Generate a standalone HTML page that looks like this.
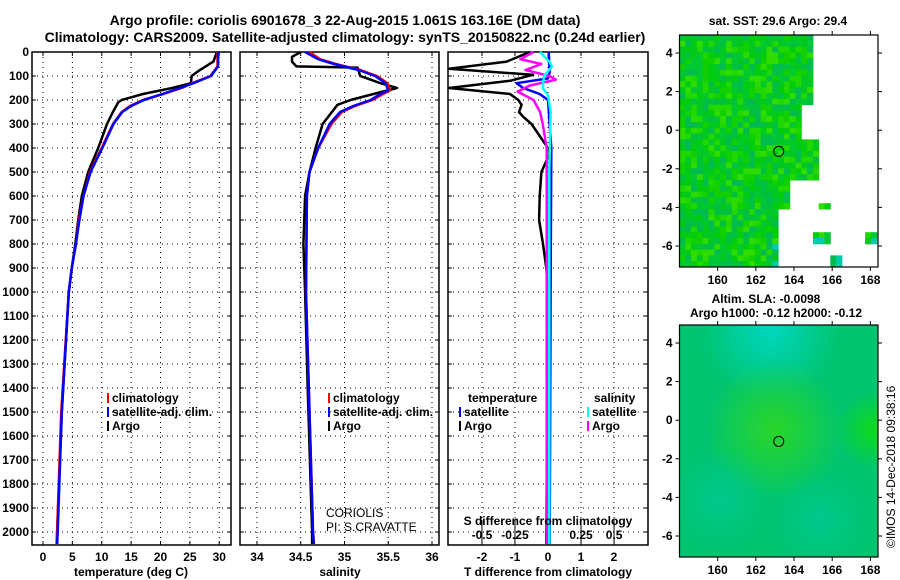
<!DOCTYPE html>
<html><head><meta charset="utf-8">
<style>
html,body{margin:0;padding:0;background:#fff;}
svg{display:block;font-family:"Liberation Sans",sans-serif;}
.b{font-weight:bold;font-size:12px;}
</style></head>
<body>
<svg id="fig" width="900" height="580" viewBox="0 0 900 580" xmlns="http://www.w3.org/2000/svg">
<text x="345" y="25" text-anchor="middle" font-weight="bold" font-size="14">Argo profile: coriolis 6901678_3 22-Aug-2015 1.061S 163.16E (DM data)</text>
<text x="345" y="42" text-anchor="middle" font-weight="bold" font-size="14">Climatology: CARS2009. Satellite-adjusted climatology: synTS_20150822.nc (0.24d earlier)</text>
<g id="g"></g>
</svg>
<script>
// ---- data (depth in dbar) ----
const tArgoDepth = [0,40,80,100,130,150,175,200,210,250,300,400,500,600,700,800,900,1000,1500,2000,2050];
const tArgo      = [29.6,29.0,26.4,25.3,25.2,22.0,17.0,13.4,12.8,11.9,10.9,9.4,7.7,6.6,6.0,5.5,4.9,4.4,3.2,2.4,2.4];
const tClimDepth = [0,60,100,130,150,175,200,225,250,300,400,500,600,700,800,900,1000,1500,2000,2050];
const tClim      = [29.7,29.7,28.5,25.4,23.6,20.5,17.0,14.8,13.4,11.9,10.0,8.0,6.9,6.1,5.6,4.9,4.4,3.1,2.4,2.3];
const tSat       = [29.8,29.8,28.6,25.6,23.4,20.3,17.2,15.0,13.5,12.0,10.1,8.1,6.9,6.2,5.6,4.9,4.4,3.2,2.5,2.4];
const sArgoDepth = [0,20,40,60,65,100,110,130,150,175,200,220,300,400,500,600,800,1000,1400,2000,2050];
const sArgo      = [34.50,34.40,34.40,34.45,35.15,35.18,35.26,35.41,35.60,35.33,35.07,34.92,34.75,34.67,34.60,34.55,34.53,34.55,34.58,34.63,34.63];
const sClimDepth = [0,30,50,75,100,130,160,175,200,225,250,300,400,500,600,1000,1500,2000,2050];
const sClim      = [34.60,34.72,34.90,35.18,35.37,35.49,35.52,35.44,35.32,35.12,34.97,34.85,34.70,34.60,34.57,34.56,34.60,34.64,34.65];
const sSat       = [34.55,34.70,34.88,35.16,35.35,35.47,35.50,35.41,35.30,35.10,34.95,34.83,34.70,34.60,34.57,34.56,34.60,34.64,34.65];
const dTDepth    = [0,40,70,95,120,150,175,200,220,250,270,300,350,390,420,500,600,700,800,900,1000,2050];
const dTArgo     = [-0.55,-1.25,-3.0,-0.45,-1.15,-3.0,-1.15,-0.9,-0.8,-0.88,-0.75,-0.5,-0.25,-0.05,0.06,-0.2,-0.25,-0.27,-0.15,-0.05,0,-0.05];
const dTSatDepth = [0,85,110,130,150,175,200,400,1000,2050];
const dTSat      = [0.02,0.05,0,-0.95,-0.75,-0.25,0,0.1,0.08,0.05];
const dSDepth    = [0,30,50,75,100,115,140,165,200,250,300,400,1000,2050];
const dSArgo     = [-0.11,-0.21,-0.05,-0.17,0.01,0.06,-0.14,-0.23,-0.11,-0.06,-0.04,-0.01,-0.01,-0.01];
const dSSatDepth = [0,40,60,100,150,180,250,500,2050];
const dSSat      = [-0.06,0.01,0.03,-0.03,-0.04,0,0.02,0.01,0.01];
const depthTicks = [0,100,200,300,400,500,600,700,800,900,1000,1100,1200,1300,1400,1500,1600,1700,1800,1900,2000];
const tTicks = [0,5,10,15,20,25,30];
const sTicks = [34,34.5,35,35.5,36];
const dTTicks = [-2,-1,0,1,2];
const dSTicks = [-0.5,-0.25,0,0.25,0.5];
const dSTickLabels = ["-0.5","-0.25","0","0.25","0.5"];
const lonTicks = [160,162,164,166,168];
const latTicks = [4,2,0,-2,-4,-6];
const argoLon = 163.2, argoLat = -1.1;

const NS="http://www.w3.org/2000/svg";
const G=document.getElementById('g');
function mk(tag,attrs,parent){const e=document.createElementNS(NS,tag);for(const k in attrs)e.setAttribute(k,attrs[k]);(parent||G).appendChild(e);return e;}
function txt(x,y,s,attrs,parent){const e=mk('text',Object.assign({x:x,y:y},attrs||{}),parent);e.textContent=s;return e;}

const Y0=52, Y1=545, DMAX=2054;
const yD=d=>Y0+d*(Y1-Y0)/DMAX;
function lin(d0,d1,r0,r1){return v=>r0+(v-d0)*(r1-r0)/(d1-d0);}
const panels=[
 {x0:32,x1:231,name:'temperature-panel',sx:lin(-1.87,32.0,32,231)},
 {x0:240,x1:439,name:'salinity-panel',sx:lin(33.806,36.08,240,439)},
 {x0:448,x1:648,name:'difference-panel',sx:lin(-3.03,3.03,448,648)}
];
const sxS = lin(-0.757,0.757,448,648);

panels.forEach((p,i)=>{
  const g=mk('g',{});
  
  
  depthTicks.forEach(d=>{
    const l=mk('line',{x1:p.x0,x2:p.x1,y1:yD(d),y2:yD(d),stroke:'#000','stroke-width':1,'stroke-dasharray':'1,4'},g);
    
    
    mk('line',{x1:p.x0,x2:p.x0+4,y1:yD(d),y2:yD(d),stroke:'#000'},g);
    mk('line',{x1:p.x1-4,x2:p.x1,y1:yD(d),y2:yD(d),stroke:'#000'},g);
  });
  const ticks = i==0?tTicks:(i==1?sTicks:dTTicks);
  ticks.forEach(t=>{
    const x=p.sx(t);
    mk('line',{x1:x,x2:x,y1:Y0,y2:Y1,stroke:'#000','stroke-dasharray':'1,4'},g);
    mk('line',{x1:x,x2:x,y1:Y1-4,y2:Y1,stroke:'#000'},g);
    mk('line',{x1:x,x2:x,y1:Y0,y2:Y0+4,stroke:'#000'},g);
    const tl=txt(x,561,String(t),{'text-anchor':'middle',class:'b'},g);
    
    
  });
  const fr=mk('rect',{x:p.x0,y:Y0,width:p.x1-p.x0,height:Y1-Y0,fill:'none',stroke:'#000','stroke-width':1.5},g);
  
  
});
dSTicks.forEach((t,k)=>{
  const x=sxS(t);
  mk('line',{x1:x,x2:x,y1:yD(1950),y2:Y1,stroke:'#000'});
  const e=txt(x,539,dSTickLabels[k],{'text-anchor':'middle',class:'b'});
  
  
});
depthTicks.forEach(d=>{
  const e=txt(29,yD(d)+4,String(d),{'text-anchor':'end',class:'b'});
  
  
});

function curve(depths,vals,sx,color,w,name){
  const pts=depths.map((d,i)=>sx(vals[i]).toFixed(1)+','+yD(d).toFixed(1)).join(' ');
  const e=mk('polyline',{points:pts,fill:'none',stroke:color,'stroke-width':w,'stroke-linejoin':'round'});
  
  
}
curve(tArgoDepth,tArgo,panels[0].sx,'#000',2.5,'temperature-argo-line');
curve(tClimDepth,tClim,panels[0].sx,'#f00',2.5,'temperature-climatology-line');
curve(tClimDepth,tSat,panels[0].sx,'#00f',2.5,'temperature-satellite-line');
curve(sArgoDepth,sArgo,panels[1].sx,'#000',2.5,'salinity-argo-line');
curve(sClimDepth,sClim,panels[1].sx,'#f00',2.5,'salinity-climatology-line');
curve(sClimDepth,sSat,panels[1].sx,'#00f',2.5,'salinity-satellite-line');
curve(dTDepth,dTArgo,panels[2].sx,'#000',2.5,'t-diff-argo-line');
curve(dTSatDepth,dTSat,panels[2].sx,'#00f',2.5,'t-diff-satellite-line');
curve(dSDepth,dSArgo,sxS,'#f0f',2.5,'s-diff-argo-line');
curve(dSSatDepth,dSSat,sxS,'#0ff',2.5,'s-diff-satellite-line');

[[131,576,'temperature (deg C)','temperature-axis-title'],[340,576,'salinity','salinity-axis-title'],[548,576,'T difference from climatology','t-diff-axis-title'],[548,525,'S difference from climatology','s-diff-axis-title']].forEach(a=>{
  const e=txt(a[0],a[1],a[2],{'text-anchor':'middle',class:'b'});
  
  
});
function leg(x,y,color,label,name){
  const g=mk('g',{});
  
  
  mk('rect',{x:x,y:y-9,width:2,height:10,fill:color},g);
  txt(x+5,y,label,{class:'b'},g);
}
leg(107,402,'#f00','climatology','legend-climatology-t');
leg(107,416,'#00f','satellite-adj. clim.','legend-satellite-t');
leg(107,430,'#000','Argo','legend-argo-t');
leg(328,402,'#f00','climatology','legend-climatology-s');
leg(328,416,'#00f','satellite-adj. clim.','legend-satellite-s');
leg(328,430,'#000','Argo','legend-argo-s');
{const e=txt(468,402,'temperature',{class:'b'});}
{const e=txt(594,402,'salinity',{class:'b'});}
leg(459,416,'#00f','satellite','legend-t-satellite');
leg(459,430,'#000','Argo','legend-t-argo');
leg(587,416,'#0ff','satellite','legend-s-satellite');
leg(587,430,'#f0f','Argo','legend-s-argo');
{const e=txt(326,517,'CORIOLIS',{'font-size':12});}
{const e=txt(326,531,'PI: S.CRAVATTE',{'font-size':12});}

// ---- maps ----
const MX0=679.5, MX1=878, LON0=158.0, LON1=168.4;
const mx=lin(LON0,LON1,MX0,MX1);
function hash(a,b){let h=(a*374761393+b*668265263)>>>0;h=((h^(h>>>13))*1274126177)>>>0;return ((h^(h>>>16))>>>0)/4294967296;}
function drawMapAxes(top,bot,name){
  const my=lin(4,-6,top+18,top+211);
  const g=mk('g',{});
  
  
  mk('rect',{x:MX0,y:top,width:MX1-MX0,height:bot-top,fill:'none',stroke:'#000','stroke-width':1.2},g);
  lonTicks.forEach(l=>{const x=mx(l);mk('line',{x1:x,x2:x,y1:top-4,y2:top,stroke:'#000'},g);mk('line',{x1:x,x2:x,y1:bot,y2:bot+4,stroke:'#000'},g);txt(x,bot+17,String(l),{'text-anchor':'middle',class:'b'},g);});
  latTicks.forEach(l=>{const y=my(l);mk('line',{x1:MX0-4,x2:MX0,y1:y,y2:y,stroke:'#000'},g);mk('line',{x1:MX1,x2:MX1+4,y1:y,y2:y,stroke:'#000'},g);txt(MX0-7,y+4,String(l),{'text-anchor':'end',class:'b'},g);});
  const c=mk('circle',{cx:mx(argoLon),cy:my(argoLat),r:5,fill:'none',stroke:'#000','stroke-width':1});
  
  
  return my;
}
{
  const top=35,bot=267;
  const g=mk('g',{});
  
  
  const pal=['#00c830','#10d000','#00c040','#20d800','#00c820','#00bb50','#30dc00','#00cc10'];
  const cw=5.8, ch=5.8;
  for(let j=0;j*ch<bot-top;j++){
    for(let i=0;i*cw<MX1-MX0;i++){
      const x=MX0+i*cw, y=top+j*ch;
      const lon=LON0+(x-MX0)/(MX1-MX0)*(LON1-LON0);
      const lat=4.93-(y-top)/19.3;
      let edge = lat>1.5?164.8: lat>-0.3?164.1: lat>-2.5?165: lat>-3.8?163.5:163;
      if(lat<-3.5 && lon>164.8 && hash(i>>1,j>>1)<0.25) edge=999;
      if(lon>edge) continue;
      if(lat<-2.5 && lat>-4 && lon<161 && lon>159.6 && hash(i>>2,j>>2)<0.3) continue;
      let c=pal[Math.floor(hash(i,j)*pal.length)];
      if(lat<-5.3 && lon>162.7 && hash(i+7,j)<0.5) c='#00ccaa';
      mk('rect',{x:x,y:y,width:cw+0.5,height:ch+0.5,fill:c},g);
    }
  }
  const t=txt(778,25,'sat. SST: 29.6 Argo: 29.4',{'text-anchor':'middle',class:'b'});
  
  
  drawMapAxes(top,bot,'sst-map');
}
{
  const top=325,bot=557;
  const defs=mk('defs',{});
  const rg=(id,cx,cy,r,col)=>{const g=mk('radialGradient',{id:id,cx:cx,cy:cy,r:r,gradientUnits:'userSpaceOnUse'},defs);mk('stop',{offset:'0','stop-color':col,'stop-opacity':0.9},g);mk('stop',{offset:'1','stop-color':col,'stop-opacity':0},g);};
  rg('rc',770,330,70,'#00d8c8');
  rg('rg1',775,430,70,'#30d820');
  rg('rg2',875,430,40,'#10dc10');
  rg('rb1',720,500,50,'#00c890');
  rg('rb2',820,520,50,'#00c890');
  const g=mk('g',{});
  
  
  mk('rect',{x:MX0,y:top,width:MX1-MX0,height:bot-top,fill:'#00c470'},g);
  ['rc','rg1','rg2','rb1','rb2'].forEach(id=>mk('rect',{x:MX0,y:top,width:MX1-MX0,height:bot-top,fill:'url(#'+id+')'},g));
  const t1=txt(766,303,'Altim. SLA: -0.0098',{'text-anchor':'middle',class:'b'});
  
  
  const t2=txt(776,317,'Argo h1000: -0.12 h2000: -0.12',{'text-anchor':'middle',class:'b'});
  
  
  drawMapAxes(top,bot,'sla-map');
  const cr=txt(0,0,'©IMOS 14-Dec-2018 09:38:16',{'font-size':12,transform:'translate(895,548) rotate(-90)'});
  
  
}
</script>
</body></html>
